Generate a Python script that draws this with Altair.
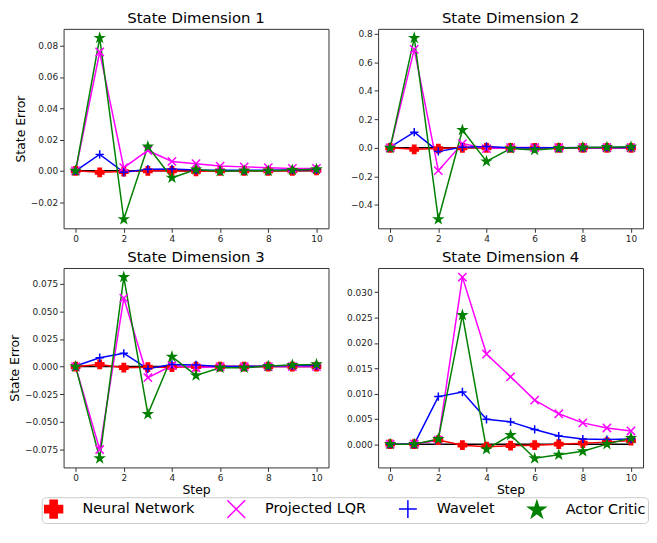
import altair as alt
import pandas as pd

steps = list(range(11))
series = ["Neural Network", "Projected LQR", "Wavelet", "Actor Critic"]
colors = ["#ff0000", "#ff00ff", "#0000ff", "#008000"]
fills = ["#ff0000", "transparent", "transparent", "#008000"]
X_PATH = "M-1,-1L1,1M-1,1L1,-1"
PLUS_PATH = "M-1,0L1,0M0,-1L0,1"
STAR_PATH = ("M0,-1L0.2245,-0.309L0.951,-0.309L0.363,0.118L0.588,0.809L0,0.382"
             "L-0.588,0.809L-0.363,0.118L-0.951,-0.309L-0.2245,-0.309Z")
shapes = ["cross", X_PATH, PLUS_PATH, STAR_PATH]

titles = ["State Dimension 1", "State Dimension 2", "State Dimension 3", "State Dimension 4"]
baseline = [0, 0, 0, 0, 0, 0, 0, 0, 0, 0, 0]

# State dimension 1
d1_nn = [0.0, -0.001, -0.0005, 0.0, 0.0, -0.0003, 0.0, 0.0, 0.0, 0.0, 0.0002]
d1_lqr = [0.0, 0.076, 0.002, 0.013, 0.006, 0.0045, 0.003, 0.0025, 0.002, 0.0015, 0.0015]
d1_wav = [0.0, 0.0105, -0.001, 0.001, 0.0012, 0.0005, 0.0003, 0.0003, 0.0003, 0.0005, 0.0008]
d1_ac = [0.0, 0.085, -0.031, 0.0155, -0.0045, 0.0008, -0.0003, 0.0, 0.0, 0.0005, 0.001]

# State dimension 2
d2_nn = [0.0, -0.01, -0.005, 0.0, 0.0, 0.0, 0.0, 0.0, 0.0, 0.0, 0.0]
d2_lqr = [0.0, 0.69, -0.16, 0.03, -0.005, 0.002, 0.002, 0.001, 0.001, 0.001, 0.001]
d2_wav = [0.005, 0.11, -0.025, 0.005, 0.01, 0.0, 0.0, 0.0, 0.002, 0.003, 0.003]
d2_ac = [0.0, 0.77, -0.5, 0.125, -0.095, -0.005, -0.015, -0.002, 0.003, 0.005, 0.007]

# State dimension 3
d3_nn = [0.0, 0.002, -0.001, -0.0005, -0.0005, 0.0, 0.0, 0.0, 0.0, 0.0, 0.0]
d3_lqr = [0.0, -0.075, 0.062, -0.010, 0.001, -0.001, 0.0, 0.0, 0.0, 0.0, 0.0]
d3_wav = [0.0005, 0.008, 0.012, -0.002, 0.002, 0.0015, 0.0, 0.0, 0.0005, 0.001, 0.001]
d3_ac = [0.0, -0.083, 0.081, -0.043, 0.009, -0.008, -0.001, -0.001, 0.0005, 0.0015, 0.002]

# State dimension 4
d4_nn = [0.0, 0.0, 0.0008, -0.0002, -0.0005, -0.0003, -0.0002, 0.0, 0.0002, 0.0004, 0.0007]
d4_lqr = [0.0, 0.0, 0.0008, 0.033, 0.0178, 0.0133, 0.0087, 0.006, 0.0042, 0.0032, 0.0026]
d4_wav = [0.0, 0.0, 0.0094, 0.0103, 0.0049, 0.0044, 0.0029, 0.0016, 0.001, 0.0009, 0.001]
d4_ac = [0.0, 0.0, 0.001, 0.0255, -0.001, 0.0018, -0.0028, -0.0021, -0.0014, 0.0, 0.0012]

panel_values = [
    [d1_nn, d1_lqr, d1_wav, d1_ac],
    [d2_nn, d2_lqr, d2_wav, d2_ac],
    [d3_nn, d3_lqr, d3_wav, d3_ac],
    [d4_nn, d4_lqr, d4_wav, d4_ac],
]
y_domains = [[-0.0368, 0.0908], [-0.5635, 0.8335], [-0.0912, 0.0892], [-0.0046, 0.0348]]
y_ticks = [
    [-0.02, 0.0, 0.02, 0.04, 0.06, 0.08],
    [-0.4, -0.2, 0.0, 0.2, 0.4, 0.6, 0.8],
    [-0.075, -0.05, -0.025, 0.0, 0.025, 0.05, 0.075],
    [0.0, 0.005, 0.01, 0.015, 0.02, 0.025, 0.03],
]
y_formats = [".2f", ".1f", ".3f", ".3f"]
x_ticks = [0, 2, 4, 6, 8, 10]

W, H = 267, 201

def make_panel(i):
    rows = []
    for s, vals in zip(series, panel_values[i]):
        for st, v in zip(steps, vals):
            rows.append({"series": s, "step": st, "value": v})
    df = pd.DataFrame(rows)
    base_df = pd.DataFrame({"step": steps, "value": baseline})

    xenc = alt.X("step:Q", scale=alt.Scale(domain=[-0.5, 10.5], nice=False, zero=False),
                 axis=alt.Axis(values=x_ticks, format="d", grid=False,
                               title="Step" if i >= 2 else None))
    yenc = alt.Y("value:Q", scale=alt.Scale(domain=y_domains[i], nice=False, zero=False),
                 axis=alt.Axis(values=y_ticks[i], format=y_formats[i], grid=False,
                               title="State Error" if i % 2 == 0 else None))

    layers = [alt.Chart(base_df).mark_line(color="black", strokeWidth=1.5).encode(x=xenc, y=yenc)]
    for s, c in zip(series, colors):
        layers.append(
            alt.Chart(df[df["series"] == s]).mark_line(color=c, strokeWidth=1.5).encode(x=xenc, y=yenc)
        )
    pts = alt.Chart(df).mark_point(filled=True, size=70, strokeWidth=1.5, opacity=1).encode(
        x=xenc, y=yenc,
        color=alt.Color("series:N", scale=alt.Scale(domain=series, range=colors), title=None),
        fill=alt.Fill("series:N", scale=alt.Scale(domain=series, range=fills), title=None),
        stroke=alt.Stroke("series:N", scale=alt.Scale(domain=series, range=colors), title=None),
        shape=alt.Shape("series:N", scale=alt.Scale(domain=series, range=shapes), title=None),
    )
    layers.append(pts)
    return alt.layer(*layers).properties(
        width=W, height=H,
        title=alt.TitleParams(titles[i], fontSize=15, fontWeight="normal", offset=3,
                              font="DejaVu Sans", color="#000000"),
    )

chart = alt.concat(*[make_panel(i) for i in range(4)], columns=2,
                   spacing={"row": 5, "column": 16}).resolve_scale(
    x="independent", y="independent"
).properties(
    padding={"left": 0, "top": 0, "right": 0, "bottom": 0},
    background="#ffffff",
).configure_view(
    stroke="#333333", strokeWidth=1
).configure_axis(
    domain=False, grid=False, tickColor="#333333", tickSize=4, tickWidth=1,
    labelFont="DejaVu Sans", labelFontSize=9, labelColor="#222222", labelPadding=2,
    titleFont="DejaVu Sans", titleFontSize=12.5, titleFontWeight="normal",
    titleColor="#000000",
).configure_axisX(
    titlePadding=1
).configure_axisY(
    titlePadding=3
).configure_legend(
    orient="none", legendX=-22, legendY=472, direction="horizontal", columns=4,
    symbolSize=324, symbolStrokeWidth=1.5, labelFont="DejaVu Sans", labelFontSize=14.5,
    labelColor="#000000", columnPadding=30, labelOffset=19, padding=2,
    strokeColor="#cccccc", fillColor="#ffffff", cornerRadius=4,
)

chart.save("out.html", embed_options={"renderer": "svg", "actions": False})
